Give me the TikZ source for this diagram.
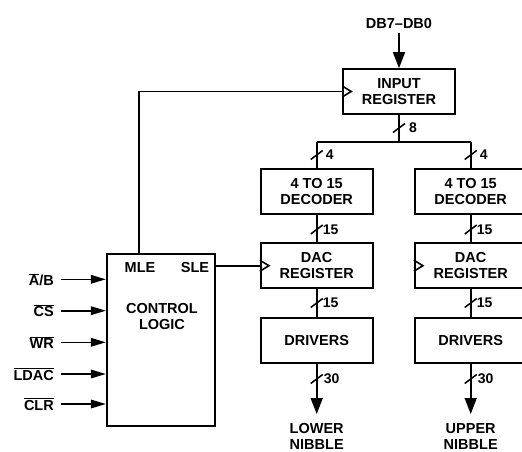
\documentclass[tikz,border=0pt]{standalone}
\usepackage{fontspec}
\setmainfont{Liberation Sans}
\usetikzlibrary{arrows.meta,calc}
\newcommand\ovl[1]{\ensuremath{\overline{\mbox{#1}}}}
\begin{document}
\begin{tikzpicture}[x=1pt,y=-1pt,
  every node/.style={font=\fontsize{14.5}{15.5}\selectfont\bfseries},
  blk/.style={draw,line width=1.6pt,minimum width=112pt,minimum height=45pt,inner sep=0pt,align=center},
  wire/.style={line width=1.6pt},
  arr/.style={wire,-{Triangle[length=15pt,width=8.5pt]}},
  bigarr/.style={wire,-{Triangle[length=16pt,width=12pt]}},
  buslbl/.style={anchor=west,inner sep=0pt,font=\fontsize{14}{15}\selectfont\bfseries},
  sigl/.style={anchor=east,inner sep=0pt},
]
\useasboundingbox (0,0) rectangle (522,451);
% blocks
\node[blk] (ir) at (399,91.5) {INPUT\\REGISTER};
\node[blk] (decL) at (316.7,191.5) {4 TO 15\\DECODER};
\node[blk] (decR) at (470.7,191.5) {4 TO 15\\DECODER};
\node[blk] (dacL) at (316.7,265.7) {DAC\\REGISTER};
\node[blk] (dacR) at (470.7,265.7) {DAC\\REGISTER};
\node[blk] (drvL) at (316.7,340.3) {DRIVERS};
\node[blk] (drvR) at (470.7,340.3) {DRIVERS};
\node[draw,line width=1.6pt,minimum width=108.3pt,minimum height=172pt,inner sep=0pt] (cl) at (160.85,340) {};
% control logic texts
\node (mle) at (140,268) {MLE};
\node (sle) at (195,268) {SLE};
\node[align=center] (cltxt) at (162,316.5) {CONTROL\\LOGIC};
% clock triangles
\foreach \n in {ir,dacL,dacR}{
  \draw[wire,line join=miter] ([yshift=-5.5pt]\n.west) -- ([xshift=9pt]\n.west) -- ([yshift=5.5pt]\n.west);
}
% data input
\node (db) at (399,24) {DB7--DB0};
\coordinate (dbs) at (399,33);
\draw[bigarr] (dbs) -- (ir.north);
% bus
\coordinate (busM) at (399,142);
\coordinate (busL) at (316.7,142);
\coordinate (busR) at (470.7,142);
\draw[wire] (ir.south) -- (busM);
\draw[wire] (busL) -- (busR);
\draw[wire] (busL) -- (decL.north);
\draw[wire] (busR) -- (decR.north);
\draw[wire] (decL.south) -- (dacL.north);
\draw[wire] (decR.south) -- (dacR.north);
\draw[wire] (dacL.south) -- (drvL.north);
\draw[wire] (dacR.south) -- (drvR.north);
\coordinate (outL) at (316.7,414);
\coordinate (outR) at (470.7,414);
\draw[bigarr] (drvL.south) -- (outL);
\draw[bigarr] (drvR.south) -- (outR);
% bus slashes and widths
\foreach \x/\y/\t/\o in {399/128/8/10, 316.7/155/4/9, 470.7/155/4/9,
  316.7/229.5/15/6, 470.7/229.5/15/6, 316.7/303/15/6, 470.7/303/15/6,
  316.7/379/30/7, 470.7/379/30/7}{
  \draw[line width=1.5pt] (\x-6,\y+4.5) -- (\x+6,\y-4.5);
  \node[buslbl] at (\x+\o,\y) {\t};
}
% outputs
\node[align=center] (lo) at (316.7,436.5) {LOWER\\NIBBLE};
\node[align=center] (up) at (470.7,436.5) {UPPER\\NIBBLE};
% MLE / SLE connections
\coordinate (mleTop) at ([xshift=33.3pt]cl.north west);
\draw[wire] (mleTop) |- (ir.west);
\coordinate (sleOut) at (cl.east |- dacL.west);
\draw[wire] (sleOut) -- (dacL.west);
% control inputs
\foreach \y/\t [count=\i] in {279.3/{\ovl{A}/B}, 310.7/{\ovl{CS}}, 342.3/{\ovl{WR}}, 374/{\ovl{LDAC}}, 404/{\ovl{CLR}}}{
  \coordinate (in\i) at (60.7,\y);
  \draw[arr] (in\i) -- (cl.west |- in\i);
  \node[sigl] at (54,\y) {\t};
}
\end{tikzpicture}
\end{document}
